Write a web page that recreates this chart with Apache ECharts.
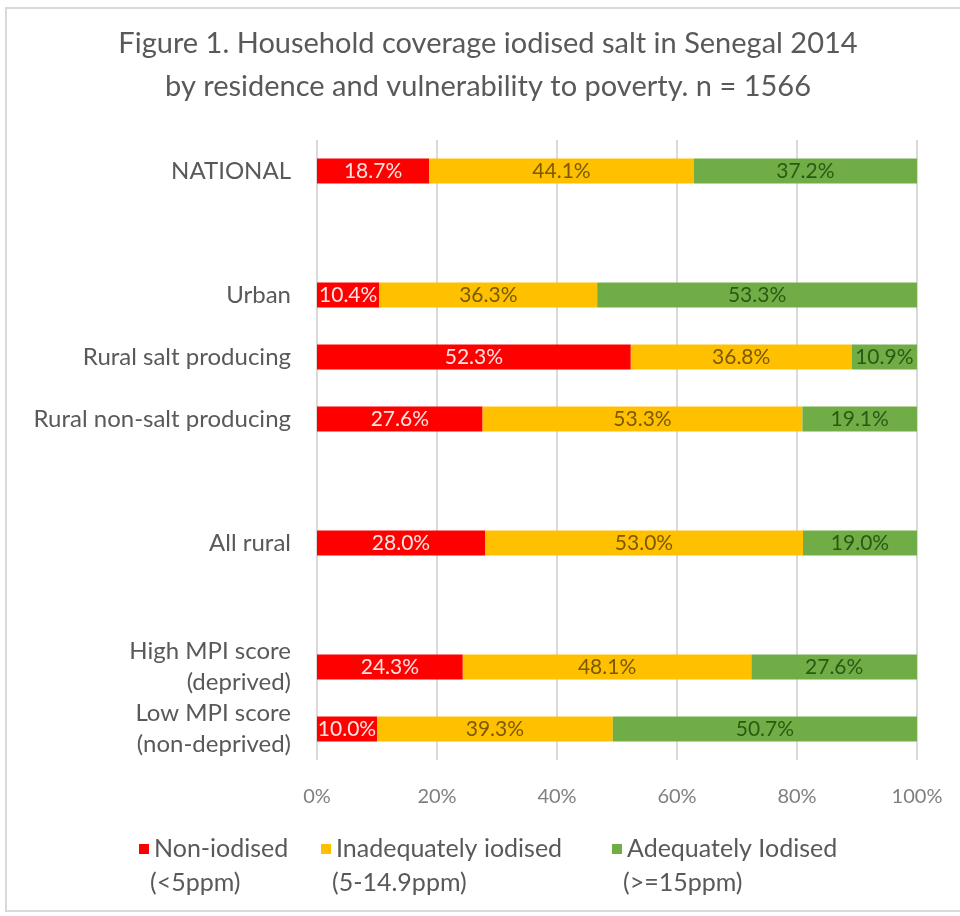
<!DOCTYPE html>
<html>
<head>
<meta charset="utf-8">
<script src="https://cdn.jsdelivr.net/npm/echarts@6/dist/echarts.min.js"></script>
<style>
  html, body { margin: 0; padding: 0; background: #fff; }
  #frame { position: absolute; left: 5px; top: 7px; width: 970px; height: 905px; border: 2px solid #d9d9d9; box-sizing: border-box; }
  #chart { position: absolute; left: 0; top: 0; width: 960px; height: 916px; }
</style>
</head>
<body>
<div id="frame"></div>
<div id="chart"></div>
<script>
const categories = ['NATIONAL', '', 'Urban', 'Rural salt producing', 'Rural non-salt producing', '', 'All rural', '', 'High MPI score\n(deprived)', 'Low MPI score\n(non-deprived)'];
const seriesNames = ['Non-iodised', 'Inadequately iodised', 'Adequately Iodised'];
const seriesSubNames = ['(<5ppm)', '(5-14.9ppm)', '(>=15ppm)'];
const nonIodised = [18.7, null, 10.4, 52.3, 27.6, null, 28.0, null, 24.3, 10.0];
const inadequate = [44.1, null, 36.3, 36.8, 53.3, null, 53.0, null, 48.1, 39.3];
const adequate = [37.2, null, 53.3, 10.9, 19.1, null, 19.0, null, 27.6, 50.7];
const xTicks = [0, 20, 40, 60, 80, 100];
const titleLines = ['Figure 1. Household coverage iodised salt in Senegal 2014', 'by residence and vulnerability to poverty. n = 1566'];

const FONT = 'Lato';
const colors = ['#ff0000', '#ffc000', '#70ad47'];
const labelColors = ['#ffe3e3', '#7a5a00', '#2a5a12'];
const values = [nonIodised, inadequate, adequate];
const legendLeft = [134, 316, 607];

const chart = echarts.init(document.getElementById('chart'), null, { renderer: 'canvas' });
chart.setOption({
  backgroundColor: 'transparent',
  animation: false,
  textStyle: { fontFamily: FONT },
  graphic: [{
    type: 'text', x: 488, y: 22,
    style: { text: titleLines.join('\n'), fill: '#595959', font: '29px ' + FONT, lineHeight: 43, align: 'center' }
  }].concat(seriesSubNames.map((t, i) => ({
    type: 'text', x: legendLeft[i] + 16, y: 883,
    style: { text: t, fill: '#595959', font: '25px ' + FONT, verticalAlign: 'middle', align: 'left' }
  }))),
  legend: seriesNames.map((n, i) => ({
    left: legendLeft[i], top: 829, itemWidth: 10, itemHeight: 10,
    icon: 'rect',
    data: [n],
    textStyle: { color: '#595959', fontSize: 25, lineHeight: 30, fontFamily: FONT }
  })),
  grid: { left: 317, right: 43, top: 140, bottom: 156, containLabel: false },
  xAxis: {
    type: 'value', min: 0, max: 100, interval: 20,
    axisLine: { show: false }, axisTick: { show: false },
    splitLine: { show: true, lineStyle: { color: '#d9d9d9', width: 2 } },
    axisLabel: { color: '#7f7f7f', fontSize: 20, margin: 27, formatter: v => xTicks.includes(v) ? v + '%' : '' }
  },
  yAxis: {
    type: 'category', inverse: true, data: categories,
    axisLine: { show: false }, axisTick: { show: false },
    axisLabel: { color: '#595959', fontSize: 24, margin: 26, lineHeight: 31, align: 'right' }
  },
  series: values.map((vals, i) => ({
    name: seriesNames[i], type: 'bar', stack: 'total', barWidth: 25,
    itemStyle: { color: colors[i] },
    label: {
      show: true, position: 'inside', color: labelColors[i], fontSize: 21, fontFamily: FONT,
      formatter: p => p.value == null ? '' : p.value.toFixed(1) + '%'
    },
    data: vals
  }))
});
</script>
</body>
</html>
